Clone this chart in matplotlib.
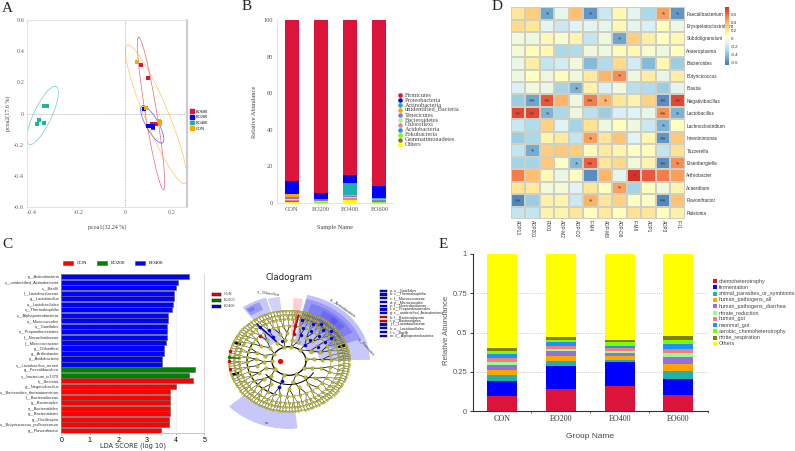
import matplotlib
matplotlib.use('Agg')
import matplotlib.pyplot as plt
import numpy as np
from matplotlib.colors import LinearSegmentedColormap
from matplotlib.patches import Patch

W, H = 795, 451
SERIF = 'Liberation Serif'
SANS = 'Liberation Sans'
plt.rcParams['font.family'] = SANS

RED, BLUE, TEAL, ORANGE = '#DC143C', '#0000FF', '#20B2AA', '#FFA500'
stack_colors = [RED, BLUE, TEAL, ORANGE, '#9370DB', '#98FB98', '#F08080', '#1E90FF', '#7CFC00', '#808000', '#FFFF00']

# panel A
pcoa_groups = ['EO600', 'EO200', 'EO400', 'CON']
pcoa_colors = [RED, BLUE, TEAL, ORANGE]
pcoa_x = [[0.07, 0.097, 0.117, 0.135, 0.12],
          [0.083, 0.097, 0.115, 0.12, 0.122],
          [-0.345, -0.335, -0.37, -0.375, -0.345],
          [0.05, 0.09, 0.148, 0.15, 0.15]]
pcoa_y = [[0.31, 0.227, -0.065, -0.07, -0.09],
          [0.027, -0.08, -0.08, -0.08, -0.085],
          [0.045, 0.047, -0.04, -0.07, -0.062],
          [0.33, 0.035, -0.045, -0.055, -0.068]]
# centre, end of the long axis from the centre, half width at the centre
ell_center = [(0.112, 0.0), (0.117, -0.07), (-0.353, -0.012), (0.134, -0.005)]
ell_major = [(-0.053, 0.49), (-0.04, 0.12), (0.053, 0.187), (-0.12, 0.445)]
ell_width = [0.025, 0.03, 0.042, 0.055]

# panel B
phyla = ['Firmicutes', 'Proteobacteria', 'Actinobacteria', 'unidentified_Bacteria', 'Tenericutes',
         'Bacteroidetes', 'Chloroflexi', 'Acidobacteria', 'Fokubacteria', 'Gemmatimonadetes', 'Others']
phyla_samples = ['CON', 'EO200', 'EO400', 'EO600']
phyla_con = [87.9, 7.0, 0.2, 1.7, 0.8, 1.0, 0.3, 0.1, 0.1, 0.1, 0.8]
phyla_eo200 = [94.7, 3.1, 0.1, 0.1, 1.1, 0.4, 0.1, 0.1, 0.1, 0.0, 0.2]
phyla_eo400 = [84.9, 4.1, 6.5, 0.5, 0.6, 0.6, 1.0, 0.1, 0.1, 0.1, 1.5]
phyla_eo600 = [90.7, 6.8, 0.1, 0.9, 0.8, 0.2, 0.1, 0.1, 0.1, 0.0, 0.2]

# panel C
lda_names = ['p__Actinobacteria', 'c__unidentified_Actinobacteria', 'c__Bacilli', 'f__Lactobacillaceae',
             'g__Lactobacillus', 'o__Lactobacillales', 'c__Thermoleophilia', 'c__Alphaproteobacteria',
             'o__Micrococcales', 'o__Gaiellales', 'o__Propionibacteriales', 'f__Nocardioidaceae',
             'f__Micrococcaceae', 'p__Chloroflexi', 'g__Arthrobacter', 'p__Acidobacteria',
             's__Lactobacillus_reuteri', 'g__Faecalibaculum', 's__bacterium_ic1379', 'k__Bacteria',
             'g__Negativibacillus', 's__Bacteroides_thetaiotaomicron', 'f__Bacteroidaceae', 'g__Bacteroides',
             'o__Bacteroidales', 'g__Bacteroidetes', 'g__Oscillospira',
             's__Butyricicoccus_pullicaecorum', 'g__Flavonifractor']
lda_scores = [4.45, 4.07, 4.02, 3.93, 3.93, 3.9, 3.88, 3.72, 3.72, 3.71, 3.68, 3.68, 3.65, 3.6, 3.58, 3.53, 3.52,
              4.68, 4.45, 4.6, 4.0, 3.8, 3.8, 3.8, 3.8, 3.8, 3.75, 3.75, 3.5]
lda_groups = ['EO400'] * 17 + ['EO200'] * 2 + ['CON'] * 10
lda_colors = {'CON': '#FF0000', 'EO200': '#008000', 'EO400': '#0000FF'}

# cladogram, node angles in degrees for each ring
ring_radius = [17, 25, 33, 42, 50, 55, 60]
leaf_angles = [1, 3, 5, 7, 9, 11, 13, 15, 17, 19, 22, 24, 26, 28, 30, 32, 34, 36, 38, 40, 42, 44, 46, 48, 50, 52, 54,
               56, 58, 60, 62, 64, 66, 68, 70, 72, 74, 76, 78, 80, 82, 84, 87, 90, 93, 96, 99, 102, 105, 108, 111,
               114, 117, 120, 123, 126, 129, 132, 135, 138, 141, 144, 147, 150, 153, 156, 159, 162, 165, 168, 171,
               174, 177, 180, 183, 186, 189, 192, 195, 198, 201, 204, 207, 210, 213, 216, 219, 222, 225, 228, 231,
               234, 237, 240, 243, 246, 249, 252, 255, 258, 261, 264, 267, 270, 273, 276, 279, 282, 285, 288, 291,
               294, 297, 300, 303, 306, 309, 312, 315, 318, 321, 324, 327, 330, 333, 336, 339, 342, 345, 348, 351,
               354, 357]
ring_angles = [
    [8, 50, 82, 106, 150, 182, 215, 253, 295, 330],
    [5, 30, 50, 68, 82, 100, 119, 140, 165, 182, 200, 225, 253, 280, 310, 340],
    [3, 18, 32, 45, 58, 70, 82, 93, 105, 119, 132, 148, 163, 176, 190, 205, 220, 236, 253, 270, 288, 305, 322, 345],
    [2, 9, 17, 25, 33, 40, 47, 54, 61, 68, 75, 82, 90, 98, 105, 112, 119, 126, 134, 142, 150, 158, 166, 174, 182,
     190, 198, 206, 214, 222, 231, 240, 249, 258, 267, 276, 285, 294, 303, 312, 322, 332, 342, 351],
    [1, 5, 10, 14, 19, 23, 28, 32, 37, 41, 46, 50, 55, 59, 64, 68, 72, 77, 82, 86, 91, 96, 100, 105, 109, 113, 118,
     122, 127, 131, 136, 140, 145, 149, 154, 158, 163, 167, 172, 176, 181, 185, 190, 194, 199, 203, 208, 212, 217,
     221, 226, 231, 235, 240, 245, 250, 255, 260, 265, 270, 275, 280, 285, 290, 295, 300, 306, 312, 318, 324, 330,
     336, 342, 348, 354],
    leaf_angles,
    leaf_angles,
]
blue_ring = [1, 1, 1, 2, 2, 2, 2, 2, 3, 3, 3, 3, 3, 4, 4, 4, 4, 4, 5, 5]
blue_angle = [50, 106, 253, 30, 50, 119, 253, 68, 32, 45, 58, 119, 70, 33, 47, 61, 75, 126, 40, 54]
red_ring = [2, 3, 3, 6, 6, 6]
red_angle = [82, 82, 134, 168, 189, 180]
# highlighted clades: start angle, end angle, inner radius, outer radius, alpha
clade_start = [222, 1, 20, 20, 28, 36, 44, 97, 107, 113, 119, 105]
clade_end = [276, 20, 77, 77, 72, 50, 60, 106, 126, 125, 124, 135]
clade_inner = [60, 30, 22, 45, 50, 62, 62, 60, 60, 66, 70, 26]
clade_outer = [81, 81, 81, 76, 72, 69, 69, 77, 79, 76, 74, 40]
clade_alpha = [0.27, 0.27, 0.3, 0.25, 0.25, 0.25, 0.25, 0.22, 0.27, 0.3, 0.3, 0.25]
clade_keys = ['a: o__Gaiellales', 'b: c__Thermoleophilia', 'c: f__Micrococcaceae', 'd: o__Micrococcales',
              'e: f__Nocardioidaceae', 'f: o__Propionibacteriales', 'g: c__unidentified_Actinobacteria',
              'h: f__Bacteroidaceae', 'i: o__Bacteroidales', 'j: f__Lactobacillaceae', 'k: o__Lactobacillales',
              'l: c__Bacilli', 'm: c__Alphaproteobacteria']
clade_key_colors = ['#0000FF'] * 7 + ['#FF0000'] * 2 + ['#0000FF'] * 4

# panel D
genera = ['Faecalibacterium', 'Erysipelatoclostridium', 'Subdoligranulum', 'Anaeroplasma', 'Bacteroides',
          'Butyricicoccus', 'Blautia', 'Negativibacillus', 'Lactobacillus', 'Lachnoclostridium', 'Intestinimonas',
          'Tuzzerella', 'Eisenbergiella', 'Arthrobacter', 'Acaerditum', 'Flavonifractor', 'Ralstonia']
traits = ['ADP13', 'ADP201', 'FD01', 'ADP-M2', 'ADP-D2', 'F-M4', 'ADP-M8', 'ADP-D8', 'F-M8', 'ADP1', 'ADP3', 'F-I1']
corr = [[0.2, 0.3, -0.5, -0.08, 0.35, -0.55, -0.2, 0.1, -0.1, -0.3, 0.45, -0.55],
        [0.25, 0.2, -0.1, -0.2, -0.12, -0.1, -0.08, 0.1, -0.1, -0.15, 0.05, -0.05],
        [-0.03, -0.05, 0.1, 0.0, 0.12, -0.22, -0.05, -0.5, 0.3, 0.15, 0.05, 0.1],
        [-0.02, 0.08, 0.1, -0.3, -0.28, -0.04, -0.05, 0.08, 0.1, 0.0, -0.04, 0.06],
        [-0.07, 0.15, -0.22, -0.17, -0.03, -0.42, -0.28, 0.25, -0.17, -0.42, 0.1, -0.35],
        [-0.05, 0.05, -0.05, 0.08, -0.03, 0.18, 0.38, 0.5, -0.05, 0.15, -0.08, 0.16],
        [-0.14, -0.03, -0.06, -0.32, -0.45, 0.13, -0.14, -0.03, -0.26, -0.28, -0.35, -0.1],
        [-0.35, -0.5, 0.65, 0.38, -0.05, 0.55, 0.38, 0.2, 0.13, 0.28, -0.58, 0.7],
        [0.7, 0.7, -0.45, -0.3, -0.04, -0.25, -0.35, -0.15, -0.12, -0.08, 0.5, -0.45],
        [-0.2, -0.28, 0.28, -0.12, -0.32, 0.22, -0.05, 0.07, -0.04, -0.2, -0.45, 0.06],
        [-0.35, -0.3, 0.12, 0.18, -0.22, 0.45, 0.2, 0.33, -0.12, 0.1, -0.55, 0.32],
        [-0.22, -0.48, 0.3, 0.32, 0.3, 0.07, 0.17, 0.12, 0.04, 0.08, -0.22, 0.22],
        [-0.32, -0.32, 0.32, 0.03, -0.42, 0.62, 0.2, 0.26, -0.03, 0.12, -0.58, 0.5],
        [0.55, 0.35, 0.09, -0.07, 0.04, -0.58, 0.38, -0.08, 0.78, 0.65, 0.55, 0.45],
        [0.2, 0.18, -0.03, -0.01, -0.12, 0.2, 0.05, 0.45, -0.32, 0.06, -0.03, 0.12],
        [-0.6, -0.35, 0.14, 0.12, -0.2, 0.4, 0.19, 0.28, 0.03, 0.04, -0.6, 0.33],
        [-0.22, -0.22, 0.13, 0.12, 0.2, 0.07, 0.18, 0.06, 0.22, 0.2, 0.05, 0.14]]
stars = {(0, 2): '*', (0, 5): '*', (0, 10): '*', (0, 11): '*', (2, 7): '*', (5, 7): '*', (6, 4): '*',
         (7, 1): '**', (7, 2): '**', (7, 5): '**', (7, 6): '*', (7, 10): '**', (7, 11): '**',
         (8, 0): '**', (8, 1): '**', (8, 2): '*', (8, 10): '**', (8, 11): '*', (9, 10): '*',
         (10, 5): '*', (10, 10): '**', (11, 1): '*', (12, 4): '*', (12, 5): '**', (12, 10): '**', (12, 11): '*',
         (13, 8): '*', (14, 7): '*', (15, 0): '**', (15, 5): '*', (15, 10): '**'}
heat_palette = ['#4575B4', '#74ADD1', '#ABD9E9', '#E0F3F8', '#FFFFBF', '#FEE090', '#FDAE61', '#F46D43', '#D73027']

# panel E
functions = ['chemoheterotrophy', 'fermentation', 'animal_parasites_or_symbionts', 'human_pathogens_all',
             'human_pathogens_diarrhea', 'nitrate_reduction', 'human_gut', 'mammal_gut',
             'aerobic_chemoheterotrophy', 'nitrite_respiration', 'Others']
func_groups = ['CON', 'EO200', 'EO400', 'EO600']
func_con = [0.094, 0.098, 0.038, 0.03, 0.03, 0.021, 0.026, 0.025, 0.02, 0.018, 0.60]
func_eo200 = [0.141, 0.147, 0.032, 0.03, 0.03, 0.014, 0.022, 0.021, 0.015, 0.019, 0.529]
func_eo400 = [0.158, 0.151, 0.019, 0.022, 0.017, 0.015, 0.018, 0.016, 0.023, 0.015, 0.546]
func_eo600 = [0.10, 0.107, 0.047, 0.045, 0.044, 0.028, 0.026, 0.027, 0.026, 0.028, 0.522]


def px_axes(x0, y0, x1, y1, **kw):
    return fig.add_axes([x0 / W, 1 - y1 / H, (x1 - x0) / W, (y1 - y0) / H], **kw)


def px_text(x, y, s, **kw):
    kw.setdefault('va', 'center')
    fig.text(x / W, 1 - y / H, s, **kw)


def stacked(ax, groups, table, width, first_on_top):
    bottom = np.zeros(len(groups))
    order = range(len(stack_colors))
    if first_on_top:
        order = reversed(order)
    for k in order:
        vals = np.array([row[k] for row in table])
        ax.bar(range(len(groups)), vals, width, bottom=bottom, color=stack_colors[k], linewidth=0, zorder=3)
        bottom += vals


fig = plt.figure(figsize=(W / 100, H / 100), dpi=100)

for label, x, y in [('A', 7, 8), ('B', 247, 7), ('C', 7, 245), ('D', 497, 7), ('E', 443, 245)]:
    px_text(x, y, label, family=SERIF, fontsize=11, ha='center', color='#222222')

# A
ax = px_axes(27, 20, 187, 207)
t = np.linspace(0, 2 * np.pi, 200)
for i in range(4):
    ex = ell_center[i][0] + ell_major[i][0] * np.cos(t) + ell_width[i] * np.sin(t)
    ey = ell_center[i][1] + ell_major[i][1] * np.cos(t)
    ax.plot(ex, ey, color=pcoa_colors[i], lw=0.5, alpha=0.65, zorder=2)
    ax.scatter(pcoa_x[i], pcoa_y[i], s=9, marker='s', color=pcoa_colors[i], linewidths=0, zorder=3)
ax.axhline(0, color='#aaaaaa', lw=0.6, ls=(0, (1, 1)), zorder=1)
ax.axvline(0, color='#aaaaaa', lw=0.6, ls=(0, (1, 1)), zorder=1)
ax.set_xlim(-0.42, 0.266)
ax.set_ylim(-0.6, 0.6)
ax.set_xticks([-0.4, -0.2, 0, 0.2])
ax.set_xticklabels(['-0.4', '-0.2', '0', '0.2'])
ax.set_yticks([-0.6, -0.4, -0.2, 0, 0.2, 0.4, 0.6])
ax.set_yticklabels(['-0.6', '-0.4', '-0.2', '0', '0.2', '0.4', '0.6'])
ax.tick_params(length=0, labelsize=4.5, labelcolor='#666666', pad=2)
for lab in ax.get_xticklabels() + ax.get_yticklabels():
    lab.set_family(SERIF)
for side in ax.spines:
    ax.spines[side].set_color('#dddddd')
    ax.spines[side].set_linewidth(0.6)
ax.spines['right'].set_linewidth(1.5)
ax.spines['right'].set_color('#cccccc')
px_text(107, 227, 'pcoa1(32.24 %)', family=SERIF, fontsize=4.3, ha='center', color='#444444')
px_text(8.5, 113, 'pcoa2(17.6 %)', family=SERIF, fontsize=4.3, ha='center', rotation=90, color='#444444')
lax = px_axes(190, 110, 215, 130)
lax.axis('off')
lax.legend(handles=[Patch(color=c, label=g) for c, g in zip(pcoa_colors, pcoa_groups)], loc='center left',
           frameon=False, handlelength=0.9, handleheight=0.9, handletextpad=0.5, labelspacing=0.28,
           borderaxespad=0, borderpad=0, prop={'family': SERIF, 'size': 3.2})

# B
ax = px_axes(277, 20, 393, 203)
stacked(ax, phyla_samples, [phyla_con, phyla_eo200, phyla_eo400, phyla_eo600], 0.48, True)
ax.set_xlim(-0.5, 3.47)
ax.set_ylim(0, 100)
ax.set_xticks(range(4))
ax.set_xticklabels(phyla_samples)
ax.set_yticks([0, 20, 40, 60, 80, 100])
ax.tick_params(length=0, labelsize=4.6, labelcolor='#555555', pad=3)
for lab in ax.get_xticklabels() + ax.get_yticklabels():
    lab.set_family(SERIF)
ax.spines[['top', 'right']].set_visible(False)
ax.spines[['left', 'bottom']].set_color('#e4e4e4')
px_text(254, 112, 'Relative Abundance', family=SERIF, fontsize=4.6, rotation=90, ha='center', color='#444444')
px_text(335, 227, 'Sample Name', family=SERIF, fontsize=4.6, ha='center', color='#444444')
lax = px_axes(396, 92, 460, 148)
lax.axis('off')
for i, name in enumerate(phyla):
    lax.scatter([0.06], [len(phyla) - i - 1], s=11, color=stack_colors[i], linewidths=0)
    lax.text(0.14, len(phyla) - i - 1, name, family=SERIF, fontsize=4.5, va='center', color='#444444')
lax.set_xlim(0, 1)
lax.set_ylim(-0.7, len(phyla) - 0.3)

# C
ax = px_axes(61.3, 274, 204.3, 433)
ypos = np.arange(len(lda_names))
ax.barh(ypos, lda_scores, 0.92, color=[lda_colors[g] for g in lda_groups], edgecolor='#666666', linewidth=0.45, zorder=3)
ax.set_ylim(len(lda_names) - 0.5, -0.5)
ax.set_xlim(0, 5)
ax.set_yticks(ypos)
ax.set_yticklabels(lda_names)
ax.set_xticks([0, 1, 2, 3, 4, 5])
ax.tick_params(axis='y', length=0, labelsize=2.9, pad=1.5, labelcolor='#333333')
ax.tick_params(axis='x', length=1.5, width=0.4, labelsize=5, pad=1.5, color='#888888')
ax.grid(axis='x', color='#bbbbbb', lw=0.4, ls=(0, (1, 2)), zorder=0)
for side in ['top', 'left']:
    ax.spines[side].set_visible(False)
ax.spines['right'].set_color('#999999')
ax.spines['right'].set_linewidth(0.4)
ax.spines['right'].set_linestyle((0, (1, 2)))
ax.spines['bottom'].set_color('#999999')
ax.spines['bottom'].set_linewidth(0.4)
px_text(133, 446, 'LDA SCORE (log 10)', fontsize=4.8, ha='center', family='DejaVu Sans', color='#333333')
lax = px_axes(63, 258, 175, 268)
lax.axis('off')
lax.legend(handles=[Patch(facecolor=lda_colors[g], edgecolor='#555555', lw=0.4, label=g) for g in lda_colors],
           loc='center left', ncol=3, frameon=False, handlelength=2.0, handleheight=0.9, handletextpad=0.7,
           columnspacing=2.0, borderaxespad=0, borderpad=0, prop={'family': SERIF, 'size': 3.6})

# cladogram
ax = px_axes(208, 293, 370, 429, projection='polar')
ax.set_aspect('auto')
ax.set_ylim(0, 81)
ax.axis('off')
for a0, a1, r0, r1, al in zip(clade_start, clade_end, clade_inner, clade_outer, clade_alpha):
    ax.bar(np.radians((a0 + a1) / 2), r1 - r0, np.radians(a1 - a0), bottom=r0, color='#3030F0', alpha=al,
           linewidth=0, zorder=1)
ax.bar(np.radians(83), 42, np.radians(7), bottom=33, color='#FF6060', alpha=0.3, linewidth=0, zorder=1)

prev_a, prev_r = np.array([0.0]), 0
for j, (r, angs) in enumerate(zip(ring_radius, ring_angles)):
    angs = np.array(angs, dtype=float)
    if j > 0:
        for a in angs:
            d = np.abs((prev_a - a + 180) % 360 - 180)
            p = prev_a[np.argmin(d)]
            col = '#111111' if j < 4 else '#444444'
            ax.plot(np.radians([p, a]), [prev_r, r], color=col, lw=0.55 if j < 4 else 0.4, zorder=2)
    prev_a, prev_r = angs, r

th = np.radians(np.linspace(0, 360, 200))
ax.plot(th, np.full(200, ring_radius[0]), color='black', lw=0.9, zorder=2)
for r in ring_radius[3:]:
    ax.plot(th, np.full(200, r), color='#8f8f2a', lw=0.45, zorder=2)
th = np.radians(np.linspace(150, 252, 80))
ax.plot(th, np.full(80, 42), color='black', lw=0.8, zorder=3)
th = np.radians(np.linspace(215, 330, 80))
ax.plot(th, np.full(80, 28), color='black', lw=0.7, zorder=2)
for a in [158, 196, 18.6]:
    ax.bar(np.radians(a), 7, np.radians(3), bottom=52, color='black', linewidth=0, zorder=2)

for j, (r, angs) in enumerate(zip(ring_radius, ring_angles)):
    ax.scatter(np.radians(angs), [r] * len(angs), s=[7, 7, 6, 5, 3.5, 2.2, 2.2][j], color='#BEBE1E',
               edgecolors='#6a6a10', linewidths=0.15, zorder=4)
ax.scatter(np.radians(blue_angle), [ring_radius[k] for k in blue_ring], s=6, color='#0000E0', linewidths=0, zorder=5)
ax.scatter(np.radians(red_angle), [ring_radius[k] for k in red_ring], s=6, color='#E00000', linewidths=0, zorder=5)
ax.scatter([np.radians(180)], [8.7], s=14, color='#F00000', linewidths=0, zorder=5)
ax.plot(np.radians([82, 80]), [33, 55], color='#D00000', lw=1.3, zorder=5)
ax.plot(np.radians([119, 126]), [27, 54], color='#0000D0', lw=1.1, zorder=5)
ax.plot(np.radians([176, 176]), [50, 60], color='#008000', lw=0.9, zorder=5)
ax.scatter([np.radians(176)], [60], s=6, color='#008000', linewidths=0, zorder=6)

px_text(289, 277, 'Cladogram', family='DejaVu Sans', fontsize=6.2, ha='center', color='#222222')
px_text(269, 293, 's__Chloroflexi', fontsize=2.6, rotation=-8, ha='center', color='#333333')
px_text(342, 308, 'p__Actinobacteria', fontsize=2.8, rotation=-35, ha='center', color='#333333')
px_text(366, 347, 'p__Firmicutes', fontsize=2.6, rotation=-48, ha='center', color='#333333')
px_text(266.5, 422.5, 'm', fontsize=3, ha='center', color='#333333')

for y, g in zip([294, 300, 306], lda_colors):
    lax = px_axes(212, y - 1.5, 221, y + 1.5)
    lax.set_facecolor(lda_colors[g])
    lax.set_xticks([])
    lax.set_yticks([])
    for side in lax.spines:
        lax.spines[side].set_linewidth(0.3)
    px_text(224, y, g, family=SERIF, fontsize=3.0, color='#333333')
for i, (key, c) in enumerate(zip(clade_keys, clade_key_colors)):
    y = 290.7 + i * 3.75
    lax = px_axes(380, y - 1.1, 386.5, y + 1.1)
    lax.set_facecolor(c)
    lax.set_xticks([])
    lax.set_yticks([])
    for side in lax.spines:
        lax.spines[side].set_linewidth(0.25)
    px_text(390, y, key, fontsize=2.6, color='#222222')

# D
ax = px_axes(510.7, 7.3, 685, 219)
heat_cmap = LinearSegmentedColormap.from_list('heat', heat_palette)
mesh = ax.pcolormesh(np.array(corr), cmap=heat_cmap, vmin=-0.66, vmax=0.77, edgecolors='#cfcfc4', linewidth=0.35)
ax.set_ylim(len(genera), 0)
for (r, c), s in stars.items():
    ax.text(c + 0.5, r + 0.62, s, ha='center', va='center', fontsize=6, color='#444444')
ax.yaxis.tick_right()
ax.set_yticks(np.arange(len(genera)) + 0.5)
ax.set_yticklabels(genera)
ax.set_xticks(np.arange(len(traits)) + 0.5)
ax.set_xticklabels(traits, rotation=270)
ax.tick_params(length=0, labelsize=3.4, pad=1, labelcolor='#333333')
for side in ax.spines:
    ax.spines[side].set_visible(False)
cax = px_axes(725, 7.3, 729, 65)
cb = fig.colorbar(mesh, cax=cax)
cb.set_ticks([0.6, 0.4, 0.2, 0, -0.2, -0.4, -0.6])
cb.set_ticklabels(['0.6', '0.4', '0.2', '0', '-0.2', '-0.4', '-0.6'])
cb.ax.tick_params(length=0, labelsize=3.2, pad=1, labelcolor='#333333')
cb.outline.set_visible(False)

# E
ax = px_axes(472.7, 254, 707.7, 411)
for g in [0.25, 0.5, 0.75]:
    ax.axhline(g, color='#bbbbbb', lw=0.6, ls=(0, (1, 1.5)), zorder=1)
stacked(ax, func_groups, [func_con, func_eo200, func_eo400, func_eo600], 0.51, False)
ax.set_xlim(-0.5, 3.5)
ax.set_ylim(0, 1)
ax.set_yticks([0, 0.25, 0.5, 0.75, 1])
ax.set_yticklabels(['0', '0.25', '0.5', '0.75', '1'])
ax.set_xticks([0.5, 1.5, 2.5, 3.5])
ax.set_xticklabels([])
ax.tick_params(axis='x', length=1.2, width=0.5, color='#333333')
ax.tick_params(axis='y', length=2.5, width=0.7, labelsize=5.5, pad=1.5, labelcolor='#555555', color='#333333')
for i, g in enumerate(func_groups):
    ax.text(i, -0.027, g, family=SERIF, fontsize=5.8, ha='center', va='top', color='#333333')
ax.spines[['top', 'right']].set_visible(False)
ax.spines[['left', 'bottom']].set_linewidth(0.8)
ax.spines[['left', 'bottom']].set_color('#333333')
px_text(447, 330, 'Relative Abundance', fontsize=5.6, rotation=90, ha='center', color='#555555')
px_text(590, 437, 'Group Name', fontsize=6, ha='center', color='#444444')
for i, name in enumerate(functions):
    y = 281.2 + i * 6.26
    lax = px_axes(713.3, y - 2, 717.3, y + 2)
    lax.set_facecolor(stack_colors[i])
    lax.set_xticks([])
    lax.set_yticks([])
    for side in lax.spines:
        lax.spines[side].set_visible(False)
    px_text(719, y, name, fontsize=3.9, color='#444444')

plt.savefig('out.png', dpi=100)
